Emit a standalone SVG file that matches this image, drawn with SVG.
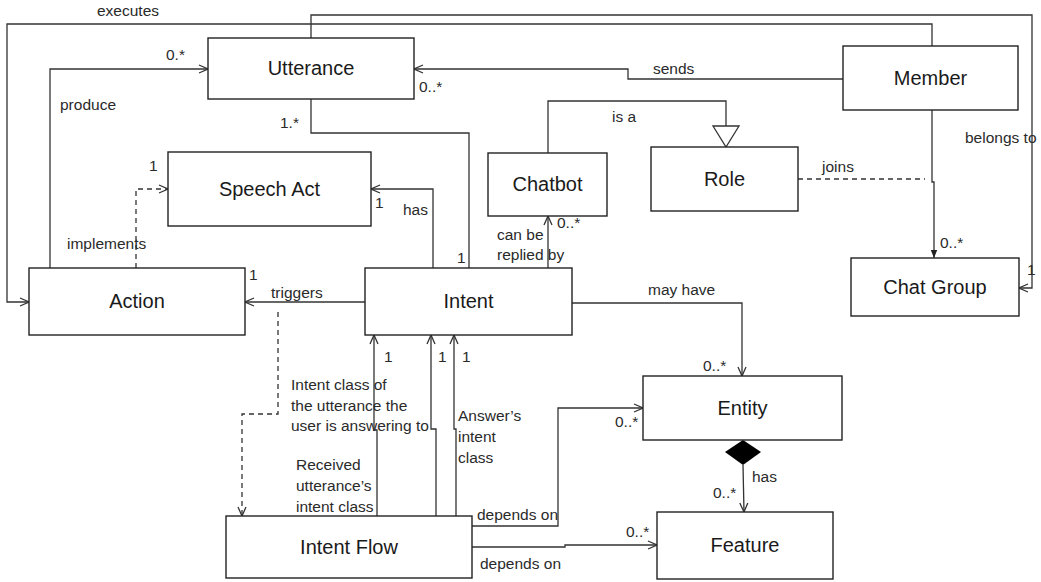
<svg xmlns="http://www.w3.org/2000/svg" width="1041" height="582" viewBox="0 0 1041 582">
<style>
.node rect{fill:#fff;stroke:#222;stroke-width:1.4}
.node text{font-family:"Liberation Sans",Arial,sans-serif;font-size:20px;fill:#1a1a1a;text-anchor:middle}
.conn path{fill:none;stroke:#333;stroke-width:1.3}
.conn .dash{stroke-dasharray:5,4}
.lbl{font-family:"Liberation Sans",Arial,sans-serif;font-size:15.5px;fill:#2a2a2a}
</style>
<defs>
<marker id="open" viewBox="0 0 10 10" refX="10" refY="5" markerWidth="10" markerHeight="10" markerUnits="userSpaceOnUse" orient="auto">
<path d="M1,1 L10,5 L1,9" fill="none" stroke="#333" stroke-width="1.3"/>
</marker>
<marker id="filled" viewBox="0 0 10 10" refX="10" refY="5" markerWidth="8" markerHeight="8" markerUnits="userSpaceOnUse" orient="auto">
<path d="M0,1 L10,5 L0,9 Z" fill="#222"/>
</marker>
</defs>
<rect width="1041" height="582" fill="#fff"/>
<g id="connectors" class="conn">
<path d="M932,46 V24 H7 V302 H29" marker-end="url(#open)"/>
<path d="M311,38 V15 H1032 V288 H1019" marker-end="url(#open)"/>
<path d="M50,268 V69 H208" marker-end="url(#open)"/>
<path d="M843,79 H628 V69 H414" marker-end="url(#open)"/>
<path d="M311,98 V133 H469 V268"/>
<path d="M548,153 V101 H726 V126"/>
<polygon points="713,126 739,126 726,147" fill="#fff" stroke="#333" stroke-width="1.3"/>
<path class="dash" d="M798,179 H925"/>
<path d="M932,110 V182 H934 V258" marker-end="url(#filled)"/>
<path d="M433,268 V189 H371" marker-end="url(#open)"/>
<path class="dash" d="M136,268 V189 H168" marker-end="url(#open)"/>
<path d="M365,302 H245" marker-end="url(#open)"/>
<path d="M548,268 V216" marker-end="url(#open)"/>
<path d="M572,303 H742 V376" marker-end="url(#open)"/>
<path d="M472,526 H558 V408 H643" marker-end="url(#open)"/>
<path d="M472,547 H565 V545 H657" marker-end="url(#open)"/>
<polygon points="743,440 761,452 743,465 725,452" fill="#000"/>
<path d="M743,465 L744,512" marker-end="url(#open)"/>
<path d="M377,516 V430 H374 V335" marker-end="url(#open)"/>
<path d="M436,516 V429 H431 V335" marker-end="url(#open)"/>
<path d="M456,516 V429 H454 V335" marker-end="url(#open)"/>
<path class="dash" d="M278,312 V414 H242 V516" marker-end="url(#open)"/>
</g>
<g id="node-utterance" class="node"><rect x="208" y="38" width="206" height="61"/><text x="311" y="75">Utterance</text></g>
<g id="node-member" class="node"><rect x="843" y="46" width="175" height="64"/><text x="930.5" y="85">Member</text></g>
<g id="node-speechact" class="node"><rect x="168" y="152" width="203" height="74"/><text x="269.5" y="196">Speech Act</text></g>
<g id="node-chatbot" class="node"><rect x="488" y="153" width="119" height="63"/><text x="547.5" y="191">Chatbot</text></g>
<g id="node-role" class="node"><rect x="651" y="147" width="147" height="64"/><text x="724.5" y="186">Role</text></g>
<g id="node-chatgroup" class="node"><rect x="851" y="258" width="168" height="58"/><text x="935" y="294">Chat Group</text></g>
<g id="node-action" class="node"><rect x="29" y="268" width="216" height="67"/><text x="137" y="308">Action</text></g>
<g id="node-intent" class="node"><rect x="365" y="268" width="207" height="67"/><text x="468.5" y="308">Intent</text></g>
<g id="node-entity" class="node"><rect x="643" y="376" width="199" height="64"/><text x="742.5" y="415">Entity</text></g>
<g id="node-intentflow" class="node"><rect x="226" y="516" width="246" height="62"/><text x="349" y="554">Intent Flow</text></g>
<g id="node-feature" class="node"><rect x="657" y="512" width="176" height="67"/><text x="745" y="552">Feature</text></g>
<g id="labels" class="lbl">
<text x="97" y="16">executes</text>
<text x="166" y="60">0.*</text>
<text x="60" y="110">produce</text>
<text x="419" y="92">0..*</text>
<text x="280" y="128">1.*</text>
<text x="653" y="74">sends</text>
<text x="612" y="122">is a</text>
<text x="965" y="143">belongs to</text>
<text x="822" y="172">joins</text>
<text x="940" y="248">0..*</text>
<text x="1027" y="275">1</text>
<text x="149" y="171">1</text>
<text x="375" y="208">1</text>
<text x="403" y="215">has</text>
<text x="457" y="263">1</text>
<text x="67" y="249">implements</text>
<text x="249" y="280">1</text>
<text x="271" y="298">triggers</text>
<text x="497" y="240">can be</text>
<text x="497" y="260">replied by</text>
<text x="557" y="228">0..*</text>
<text x="648" y="295">may have</text>
<text x="703" y="371">0..*</text>
<text x="615" y="427">0..*</text>
<text x="752" y="482">has</text>
<text x="713" y="498">0..*</text>
<text x="626" y="537">0..*</text>
<text x="384" y="362">1</text>
<text x="438" y="362">1</text>
<text x="462" y="362">1</text>
<text x="291" y="390">Intent class of</text>
<text x="291" y="411">the utterance the</text>
<text x="291" y="431">user is answering to</text>
<text x="296" y="470">Received</text>
<text x="296" y="491">utterance’s</text>
<text x="296" y="512">intent class</text>
<text x="458" y="421">Answer’s</text>
<text x="458" y="442">intent</text>
<text x="458" y="463">class</text>
<text x="477" y="520">depends on</text>
<text x="480" y="569">depends on</text>
</g>
</svg>
